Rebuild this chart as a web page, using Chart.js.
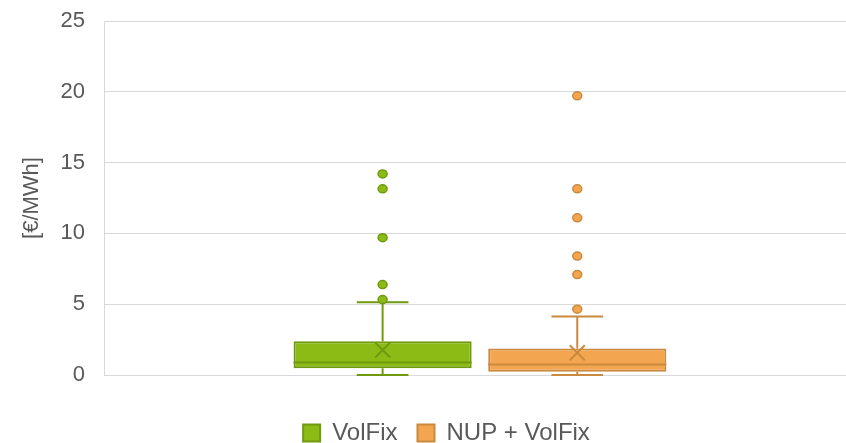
<!DOCTYPE html>
<html>
<head>
<meta charset="utf-8">
<script src="https://cdn.jsdelivr.net/npm/chart.js@4.4.1/dist/chart.umd.min.js"></script>
<style>
  html, body { margin: 0; padding: 0; background: #ffffff; overflow: hidden; }
  #wrap { width: 855px; height: 443px; position: relative; }
</style>
</head>
<body>
<div id="wrap"><canvas id="c"></canvas></div>
<script>
// ---- data ----
const seriesNames = ['VolFix', 'NUP + VolFix'];
const whiskerMin = [0, 0];
const quartile1 = [0.47, 0.23];
const medians = [0.89, 0.75];
const quartile3 = [2.39, 1.88];
const whiskerMax = [5.14, 4.13];
const means = [1.76, 1.57];
const outliersVolFix = [5.33, 6.39, 9.7, 13.15, 14.2];
const outliersNupVolFix = [4.65, 7.09, 8.4, 11.1, 13.15, 19.72];
const outliers = [outliersVolFix, outliersNupVolFix];
const yTicks = [0, 5, 10, 15, 20, 25];

const fills = ['#8cbb15', '#f3a64f'];
const borders = ['#6f9a10', '#c98a3f'];
const textColor = '#595959';
const gridColor = '#d9d9d9';
const FONT = "'Liberation Sans', Arial, sans-serif";
const FS = 22;

const datasets = seriesNames.map((name, i) => ({
  label: name,
  data: [[quartile1[i], quartile3[i]]],
  backgroundColor: fills[i],
  borderColor: borders[i],
  borderWidth: 2,
  borderSkipped: false,
  categoryPercentage: 0.519,
  barPercentage: 0.915
}));

const boxPlugin = {
  id: 'boxExtras',
  afterLayout(chart) {
    const l = chart.legend;
    if (l) { l.left += 19; l.right += 19; l.top += 26; l.bottom += 26; }
  },
  afterDatasetsDraw(chart) {
    const ctx = chart.ctx;
    const ys = chart.scales.y;
    chart.data.datasets.forEach((ds, i) => {
      const bar = chart.getDatasetMeta(i).data[0];
      if (!bar) return;
      const x = bar.x, w = bar.width;
      const capHalf = w * 0.145;
      const yMin = ys.getPixelForValue(whiskerMin[i]);
      const yMax = ys.getPixelForValue(whiskerMax[i]);
      const yQ1 = ys.getPixelForValue(quartile1[i]);
      const yQ3 = ys.getPixelForValue(quartile3[i]);
      const yMed = ys.getPixelForValue(medians[i]);
      const yMean = ys.getPixelForValue(means[i]);
      ctx.save();
      ctx.strokeStyle = borders[i];
      ctx.lineWidth = 2;
      ctx.beginPath();
      // whiskers
      ctx.moveTo(x, yQ3); ctx.lineTo(x, yMax);
      ctx.moveTo(x - capHalf, yMax); ctx.lineTo(x + capHalf, yMax);
      ctx.moveTo(x, yQ1); ctx.lineTo(x, yMin);
      ctx.moveTo(x - capHalf, yMin); ctx.lineTo(x + capHalf, yMin);
      // median
      ctx.moveTo(x - w / 2, yMed); ctx.lineTo(x + w / 2, yMed);
      // mean X
      const s = 7.5;
      ctx.moveTo(x - s, yMean - s); ctx.lineTo(x + s, yMean + s);
      ctx.moveTo(x - s, yMean + s); ctx.lineTo(x + s, yMean - s);
      ctx.stroke();
      // outliers
      ctx.fillStyle = fills[i];
      ctx.lineWidth = 1.5;
      outliers[i].forEach(v => {
        const py = ys.getPixelForValue(v);
        ctx.beginPath();
        ctx.ellipse(x, py, 4.5, 4, 0, 0, Math.PI * 2);
        ctx.fill();
        ctx.stroke();
      });
      ctx.restore();
    });
  }
};

new Chart(document.getElementById('c'), {
  type: 'bar',
  data: { labels: [''], datasets },
  options: {
    responsive: true,
    maintainAspectRatio: false,
    animation: false,
    layout: { padding: { top: 21, bottom: 14, left: 0, right: 0 } },
    plugins: {
      tooltip: { enabled: false },
      legend: {
        position: 'bottom',
        labels: {
          color: textColor,
          font: { family: FONT, size: 24 },
          boxWidth: 17,
          boxHeight: 17,
          padding: 20
        }
      }
    },
    scales: {
      x: { display: false },
      y: {
        min: 0,
        max: 25,
        afterBuildTicks(axis) { axis.ticks = yTicks.map(v => ({ value: v })); },
        grid: { color: gridColor, lineWidth: 1, drawTicks: true, tickLength: 20, tickColor: 'rgba(0,0,0,0)' },
        border: { color: gridColor, width: 1 },
        ticks: {
          color: textColor,
          font: { family: FONT, size: FS },
          padding: 0
        },
        title: {
          display: true,
          text: '[€/MWh]',
          color: textColor,
          font: { family: FONT, size: FS },
          padding: { top: 19, bottom: 15 }
        }
      }
    }
  },
  plugins: [boxPlugin]
});
</script>
</body>
</html>
